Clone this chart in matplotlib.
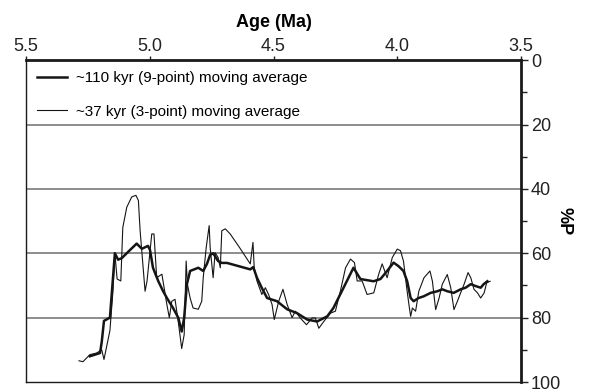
import matplotlib
matplotlib.use("Agg")
import matplotlib.pyplot as plt
from matplotlib.ticker import MultipleLocator

plt.rcParams['font.family'] = ['Liberation Sans', 'DejaVu Sans']

# ~110 kyr (9-point) moving average
age_9pt = [5.242, 5.201, 5.194, 5.185, 5.161, 5.153, 5.141, 5.128, 5.113, 5.080,
           5.053, 5.032, 5.007, 4.999, 4.987, 4.966, 4.946, 4.930, 4.906, 4.885,
           4.871, 4.861, 4.850, 4.837, 4.804, 4.784, 4.769, 4.756, 4.744, 4.729,
           4.724, 4.709, 4.688, 4.594, 4.582, 4.567, 4.547, 4.526, 4.486, 4.445,
           4.405, 4.364, 4.324, 4.283, 4.258, 4.217, 4.177, 4.149, 4.096, 4.068,
           4.041, 4.015, 3.995, 3.975, 3.960, 3.946, 3.934, 3.914, 3.894, 3.865,
           3.838, 3.818, 3.798, 3.772, 3.744, 3.724, 3.703, 3.683, 3.663, 3.651,
           3.636]
p_9pt = [92.0, 91.0, 87.5, 81.0, 80.0, 72.0, 60.0, 62.0, 61.5, 59.0,
         57.0, 58.6, 57.7, 59.0, 64.5, 68.6, 71.8, 74.0, 77.0, 80.0,
         84.3, 80.0, 69.6, 65.5, 64.5, 65.5, 63.3, 60.5, 60.0, 61.8,
         62.4, 63.0, 63.0, 65.0, 64.3, 67.6, 70.8, 73.9, 74.9, 77.4,
         78.6, 80.6, 81.2, 79.6, 77.0, 70.7, 64.5, 68.0, 68.7, 68.0,
         65.5, 62.9, 64.0, 65.5, 68.7, 73.9, 74.9, 73.9, 73.4, 72.3,
         71.8, 71.2, 71.8, 72.3, 71.2, 70.7, 69.6, 70.2, 70.7, 69.6,
         68.7]

# ~37 kyr (3-point) moving average
age_3pt = [5.286, 5.270, 5.242, 5.215, 5.194, 5.185, 5.169, 5.161, 5.149, 5.141,
           5.132, 5.117, 5.109, 5.093, 5.073, 5.056, 5.046, 5.039, 5.019, 5.011,
           4.992, 4.983, 4.972, 4.951, 4.931, 4.921, 4.911, 4.898, 4.885, 4.871,
           4.861, 4.853, 4.848, 4.837, 4.825, 4.804, 4.790, 4.784, 4.772, 4.760,
           4.756, 4.744, 4.736, 4.724, 4.715, 4.709, 4.695, 4.675, 4.634, 4.594,
           4.583, 4.578, 4.567, 4.547, 4.533, 4.520, 4.506, 4.497, 4.479, 4.462,
           4.445, 4.425, 4.412, 4.392, 4.367, 4.344, 4.331, 4.317, 4.297, 4.270,
           4.250, 4.230, 4.209, 4.189, 4.173, 4.162, 4.142, 4.122, 4.095, 4.075,
           4.061, 4.041, 4.020, 4.000, 3.987, 3.975, 3.962, 3.953, 3.946, 3.939,
           3.926, 3.913, 3.892, 3.868, 3.858, 3.845, 3.831, 3.818, 3.798, 3.784,
           3.771, 3.757, 3.744, 3.730, 3.714, 3.703, 3.690, 3.676, 3.663, 3.649,
           3.639, 3.625]
p_3pt = [93.4, 93.7, 91.5, 91.0, 90.0, 93.0, 87.0, 84.0, 72.0, 60.0,
         68.0, 68.6, 52.0, 45.7, 42.5, 42.0, 43.6, 53.0, 71.8, 68.6,
         54.0, 54.0, 67.6, 66.5, 75.9, 80.0, 74.9, 74.3, 81.2, 89.6,
         85.3, 62.4, 69.6, 73.9, 77.0, 77.4, 74.9, 67.6, 58.2, 51.4,
         58.2, 67.6, 59.8, 61.3, 64.5, 53.0, 52.4, 54.0, 58.6, 63.3,
         56.6, 64.5, 68.6, 72.8, 70.7, 72.8, 75.9, 80.6, 74.9, 71.2,
         75.9, 80.0, 78.0, 80.1, 82.2, 80.1, 80.1, 83.3, 81.2, 78.6,
         78.0, 71.8, 64.5, 61.8, 62.9, 68.6, 68.6, 72.8, 72.3, 66.5,
         63.3, 67.6, 61.3, 58.7, 59.2, 62.4, 70.7, 75.9, 79.6, 77.0,
         78.0, 71.8, 67.6, 65.5, 68.7, 77.5, 73.9, 69.6, 66.6, 70.7,
         77.5, 74.9, 72.3, 69.6, 66.0, 67.6, 71.2, 72.3, 73.9, 72.3,
         69.2, 68.7]

x_ticks = [5.5, 5.0, 4.5, 4.0, 3.5]
y_ticks = [0, 20, 40, 60, 80, 100]
grid_levels = [20, 40, 60, 80]

fig = plt.figure(figsize=(5.9, 3.92), dpi=100)
ax = fig.add_axes([0.0441, 0.0255, 0.839, 0.821])

for g in grid_levels:
    ax.axhline(g, color='#6e6e6e', lw=1.1, zorder=1)

ax.plot(age_9pt, p_9pt, color='#151515', lw=1.8, zorder=3,
        label='~110 kyr (9-point) moving average')
ax.plot(age_3pt, p_3pt, color='#151515', lw=0.8, zorder=2,
        label='~37 kyr (3-point) moving average')

ax.set_xlim(5.5, 3.5)
ax.set_ylim(100, 0)

ax.xaxis.tick_top()
ax.xaxis.set_label_position('top')
ax.set_xticks(x_ticks)
ax.set_xticklabels([f'{t:.1f}' for t in x_ticks])
ax.set_xlabel('Age (Ma)', fontsize=13, fontweight='bold', labelpad=8)

ax.yaxis.tick_right()
ax.yaxis.set_label_position('right')
ax.set_yticks(y_ticks)
ax.yaxis.set_minor_locator(MultipleLocator(10))
ax.set_ylabel('%P', fontsize=13, fontweight='bold', rotation=-90, labelpad=8)

ax.tick_params(axis='x', which='major', direction='out', length=3, width=1.0,
               labelsize=13, pad=1, colors='#222222')
ax.tick_params(axis='y', which='major', direction='out', length=5, width=1.0,
               labelsize=13, pad=2, colors='#222222')
ax.tick_params(axis='y', which='minor', direction='out', length=4, width=1.0,
               colors='#222222')

for side in ['top', 'right']:
    ax.spines[side].set_linewidth(2.0)
    ax.spines[side].set_color('#1a1a1a')
for side in ['left', 'bottom']:
    ax.spines[side].set_linewidth(1.0)
    ax.spines[side].set_color('#1a1a1a')

leg = ax.legend(loc='upper left', bbox_to_anchor=(0.0, 1.0), frameon=False,
                fontsize=11, handlelength=2.0, handletextpad=0.6,
                labelspacing=1.3, borderpad=0.7, borderaxespad=0.0)

fig.savefig('out.png', dpi=100)
